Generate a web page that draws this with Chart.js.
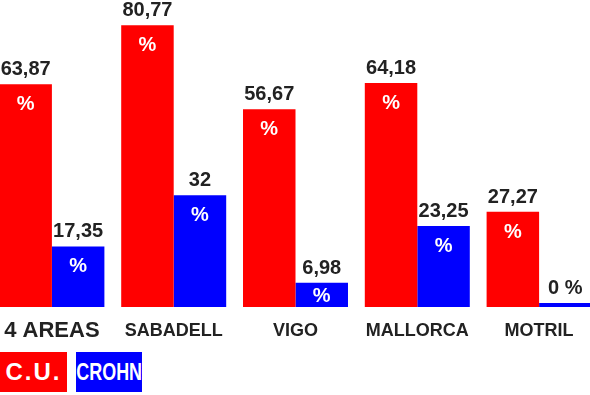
<!DOCTYPE html>
<html>
<head>
<meta charset="utf-8">
<script src="https://cdn.jsdelivr.net/npm/chart.js@4.4.1/dist/chart.umd.min.js"></script>
<style>
  html, body { margin: 0; padding: 0; background: #fff; overflow: hidden; }
  #wrap { position: relative; width: 590px; height: 395px; overflow: hidden; }
  #box { position: absolute; left: -9px; top: 0; width: 609px; height: 347px; }
  .leg { position: absolute; top: 352px; height: 40px; color: #fff; display: flex;
         align-items: center; justify-content: center; font-weight: bold; }
</style>
</head>
<body>
<div id="wrap">
  <div id="box"><canvas id="grafico"></canvas></div>
  <div id="legenda"></div>
</div>
<script>
// dados do gráfico
const categorias = ['4 AREAS', 'SABADELL', 'VIGO', 'MALLORCA', 'MOTRIL'];
const nomesSeries = ['C.U.', 'CROHN'];
const valoresCU = [63.87, 80.77, 56.67, 64.18, 27.27];
const valoresCrohn = [17.35, 32, 6.98, 23.25, 0];
const coresSeries = ['#ff0000', '#0000ff'];

const fonte = '"Liberation Sans", Arial, sans-serif';

function formatar(v) {
    return String(v).replace('.', ',');
}

// rótulos em cima das barras + "%" dentro
const rotulosBarras = {
    id: 'rotulosBarras',
    afterDatasetsDraw(chart) {
        const ctx = chart.ctx;
        ctx.save();
        ctx.textAlign = 'center';
        ctx.textBaseline = 'alphabetic';
        chart.data.datasets.forEach((ds, i) => {
            chart.getDatasetMeta(i).data.forEach((bar, j) => {
                const v = ds.data[j];
                ctx.font = 'bold 20px ' + fonte;
                ctx.fillStyle = '#222';
                if (v === 0) {
                    ctx.fillText('0 %', bar.x, bar.y - 9);
                    return;
                }
                ctx.fillText(formatar(v), bar.x, bar.y - 9);
                ctx.fillStyle = '#fff';
                // barras curtas: o % fica mais perto do topo
                ctx.fillText('%', bar.x, Math.min(bar.y + 26, bar.base - 5));
            });
        });
        ctx.restore();
    }
};

const grafico = new Chart(document.getElementById('grafico'), {
    type: 'bar',
    data: {
        labels: categorias,
        datasets: [
            { label: nomesSeries[0], data: valoresCU, backgroundColor: coresSeries[0] },
            { label: nomesSeries[1], data: valoresCrohn, backgroundColor: coresSeries[1], minBarLength: 4 }
        ]
    },
    options: {
        responsive: true, maintainAspectRatio: false,
        animation: false,
        layout: { padding: 0 },
        datasets: { bar: { categoryPercentage: 0.862, barPercentage: 1, borderWidth: 0 } },
        plugins: { legend: { display: false }, tooltip: { enabled: false } },
        scales: {
            y: { display: false, min: 0, max: 88 },
            x: {
                grid: { display: false }, border: { display: false },
                ticks: {
                    color: '#222', padding: 4, autoSkip: false, maxRotation: 0,
                    font: (c) => ({ family: fonte, weight: 'bold', size: c.index === 0 ? 22 : 18, lineHeight: '24px' })
                }
            }
        }
    },
    plugins: [rotulosBarras]
});

// legenda feita em HTML a partir dos datasets
const legenda = document.getElementById('legenda');
grafico.data.datasets.forEach((ds, i) => {
    const d = document.createElement('div');
    d.className = 'leg';
    d.style.left = (i * 76) + 'px';
    d.style.width = (i === 0 ? 67 : 66) + 'px';
    d.style.background = ds.backgroundColor;
    const s = document.createElement('span');
    s.textContent = ds.label;
    if (i === 0) {
        s.style.font = 'bold 24px ' + fonte;
        s.style.letterSpacing = '2px';
    } else {
        s.style.font = 'bold 23px ' + fonte;
        s.style.display = 'inline-block';
        s.style.transform = 'scaleX(0.78)';
    }
    d.appendChild(s);
    legenda.appendChild(d);
});
</script>
</body>
</html>
